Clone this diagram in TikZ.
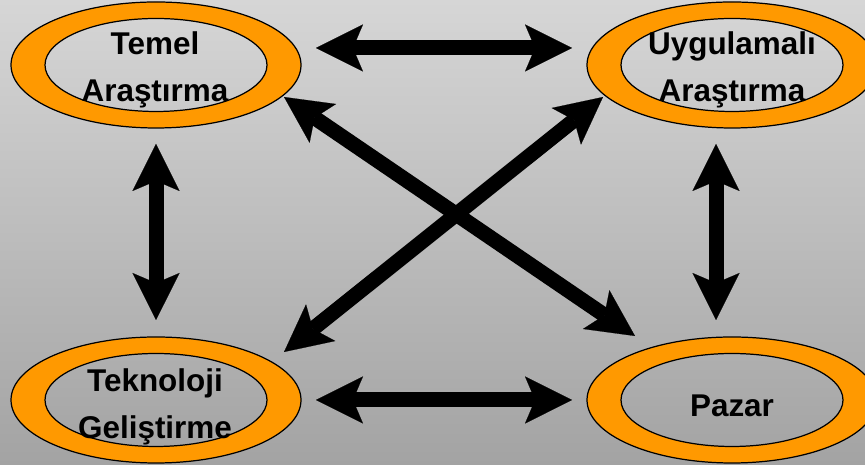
\documentclass[tikz,border=0pt]{standalone}
\usepackage{fontspec}
\setmainfont{Liberation Sans}
\usepackage{xcolor}
\usepackage{tikz}
\usetikzlibrary{arrows.meta}

\definecolor{bgtop}{RGB}{214,214,214}
\definecolor{bgbot}{RGB}{163,163,163}
\definecolor{ringorange}{RGB}{255,153,0}

\tikzset{
	halka/.style={even odd rule,fill=ringorange,draw=black,line width=0.7pt},
	ringtext/.style={align=center,inner sep=0pt,font={\fontsize{17.9}{26.8}\selectfont\bfseries}},
	dblarrow/.style={line width=0.3cm,
		{Stealth[length=0.94cm,width=0.94cm,inset=0.2cm,line width=0.1pt]}-{Stealth[length=0.94cm,width=0.94cm,inset=0.2cm,line width=0.1pt]}}
}

\begin{document}
\begin{tikzpicture}[x=0.02cm,y=0.02cm]
		\useasboundingbox (0,0) rectangle (865,465);
		\clip (0,0) rectangle (865,465);
		\shade[top color=bgtop,bottom color=bgbot] (0,0) rectangle (865,465);
		% rings
		\filldraw[halka] (156,400) ellipse[x radius=145,y radius=63] (156,400) ellipse[x radius=111,y radius=46.5];
		\filldraw[halka] (732,400) ellipse[x radius=145,y radius=63] (732,400) ellipse[x radius=111,y radius=46.5];
		\filldraw[halka] (156,65) ellipse[x radius=145,y radius=63] (156,65) ellipse[x radius=111,y radius=46.5];
		\filldraw[halka] (732,65) ellipse[x radius=145,y radius=63] (732,65) ellipse[x radius=111,y radius=46.5];
		% texts
		\node[ringtext] (temel) at (155,395) {Temel\\Araştırma};
		\node[ringtext] (uygulamali) at (732,395) {Uygulamalı\\Araştırma};
		\node[ringtext] (teknoloji) at (155,58) {Teknoloji\\Geliştirme};
		\node[ringtext] (pazar) at (732,59) {Pazar};
		% arrow ends
		\coordinate (ustsol) at (316,417);
		\coordinate (ustsag) at (572,417);
		\coordinate (altsol) at (316,65);
		\coordinate (altsag) at (572,65);
		\coordinate (solust) at (156,321);
		\coordinate (solalt) at (156,145);
		\coordinate (sagust) at (716,321);
		\coordinate (sagalt) at (716,145);
		\coordinate (capraz1) at (284,368);
		\coordinate (capraz2) at (635,129);
		\coordinate (capraz3) at (603,368);
		\coordinate (capraz4) at (284,113);
		% arrows
		\draw[dblarrow] (ustsol) -- (ustsag);
		\draw[dblarrow] (altsol) -- (altsag);
		\draw[dblarrow] (solust) -- (solalt);
		\draw[dblarrow] (sagust) -- (sagalt);
		\draw[dblarrow] (capraz1) -- (capraz2);
		\draw[dblarrow] (capraz3) -- (capraz4);
	\end{tikzpicture}
\end{document}
